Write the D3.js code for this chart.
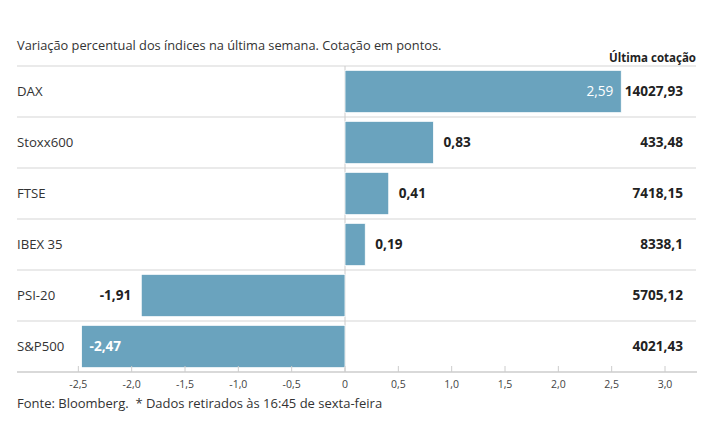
<!DOCTYPE html>
<html><head><meta charset="utf-8">
<script src="https://cdn.jsdelivr.net/npm/d3@7"></script>
<style>body{margin:0;background:#fff;}svg{font-family:"Open Sans",sans-serif;}</style>
</head><body>
<svg id="c" width="715" height="445"></svg>
<script>
const categories = ["DAX","Stoxx600","FTSE","IBEX 35","PSI-20","S&P500"];
const changes = [2.59,0.83,0.41,0.19,-1.91,-2.47];
const quotes = ["14027,93","433,48","7418,15","8338,1","5705,12","4021,43"];
const ticks = [-2.5,-2.0,-1.5,-1.0,-0.5,0,0.5,1.0,1.5,2.0,2.5,3.0];
const tickLabels = ["-2,5","-2,0","-1,5","-1,0","-0,5","0","0,5","1,0","1,5","2,0","2,5","3,0"];

const svg = d3.select("#c");
const x = d3.scaleLinear().domain([0,3]).range([345,665]);
const y = d3.scaleBand().domain(categories).range([66,372]).paddingInner(0.17).paddingOuter(0.085);
const rowY = d3.scaleBand().domain(categories).range([66,372]);
const fmt = v => d3.format(".2f")(v).replace(".",",").replace("\u2212","-");

svg.append("text").attr("x",17).attr("y",50).attr("font-size",12.8).attr("fill","#333")
  .text("Variação percentual dos índices na última semana. Cotação em pontos.");
svg.append("text").attr("x",696).attr("y",62).attr("text-anchor","end").attr("font-size",11.5)
  .attr("font-weight","bold").attr("fill","#222").text("Última cotação");

// row lines
svg.selectAll("line.row").data(categories).join("line")
  .attr("x1",17).attr("x2",696).attr("y1",d=>rowY(d)).attr("y2",d=>rowY(d))
  .attr("stroke","#d6d6d6").attr("stroke-width",1.2);

// zero line
svg.append("line").attr("x1",x(0)).attr("x2",x(0)).attr("y1",66).attr("y2",372)
  .attr("stroke","#ccc").attr("stroke-width",1);

// bars
svg.selectAll("rect.bar").data(categories).join("rect")
  .attr("x",(d,i)=>x(Math.min(0,changes[i])))
  .attr("width",(d,i)=>Math.abs(x(changes[i])-x(0)))
  .attr("y",d=>y(d)).attr("height",y.bandwidth())
  .attr("fill","#6aa3be").attr("stroke","#fff").attr("stroke-width",0.8);

// category labels
svg.selectAll("text.cat").data(categories).join("text")
  .attr("x",17).attr("y",d=>rowY(d)+rowY.bandwidth()/2).attr("dy","0.35em")
  .attr("font-size",13.2).attr("fill","#333").text(d=>d);

// value labels
const inside = [true,false,false,false,false,true];
svg.selectAll("text.val").data(categories).join("text")
  .attr("x",(d,i)=>{
    const v=changes[i];
    if(inside[i]) return v>0 ? x(v)-8 : x(v)+8;
    return v>0 ? x(v)+10 : x(v)-10;
  })
  .attr("text-anchor",(d,i)=>{
    const v=changes[i];
    if(inside[i]) return v>0?"end":"start";
    return v>0?"start":"end";
  })
  .attr("y",d=>rowY(d)+rowY.bandwidth()/2).attr("dy","0.35em")
  .attr("font-size",13.6)
  .attr("font-weight",(d,i)=> (i===0)?"normal":"bold")
  .attr("fill",(d,i)=>inside[i]?"#fff":"#222")
  .text((d,i)=>fmt(changes[i]));

// quotes
svg.selectAll("text.q").data(categories).join("text")
  .attr("x",683).attr("text-anchor","end")
  .attr("y",d=>rowY(d)+rowY.bandwidth()/2).attr("dy","0.35em")
  .attr("font-size",13.6).attr("font-weight","bold").attr("fill","#222")
  .text((d,i)=>quotes[i]);

// axis
svg.append("line").attr("x1",17).attr("x2",697).attr("y1",372).attr("y2",372)
  .attr("stroke","#ccc").attr("stroke-width",1.5);
svg.selectAll("line.tick").data(ticks).join("line")
  .attr("x1",d=>x(d)).attr("x2",d=>x(d)).attr("y1",366).attr("y2",372)
  .attr("stroke","#ccc");
svg.selectAll("text.tick").data(ticks).join("text")
  .attr("x",d=>x(d)).attr("y",388).attr("text-anchor","middle")
  .attr("font-size",10.5).attr("fill","#444").text((d,i)=>tickLabels[i]);

svg.append("text").attr("x",17).attr("y",408).attr("font-size",13).attr("fill","#333")
  .style("white-space","pre")
  .text("Fonte: Bloomberg.  * Dados retirados às 16:45 de sexta-feira");
</script>
</body></html>
